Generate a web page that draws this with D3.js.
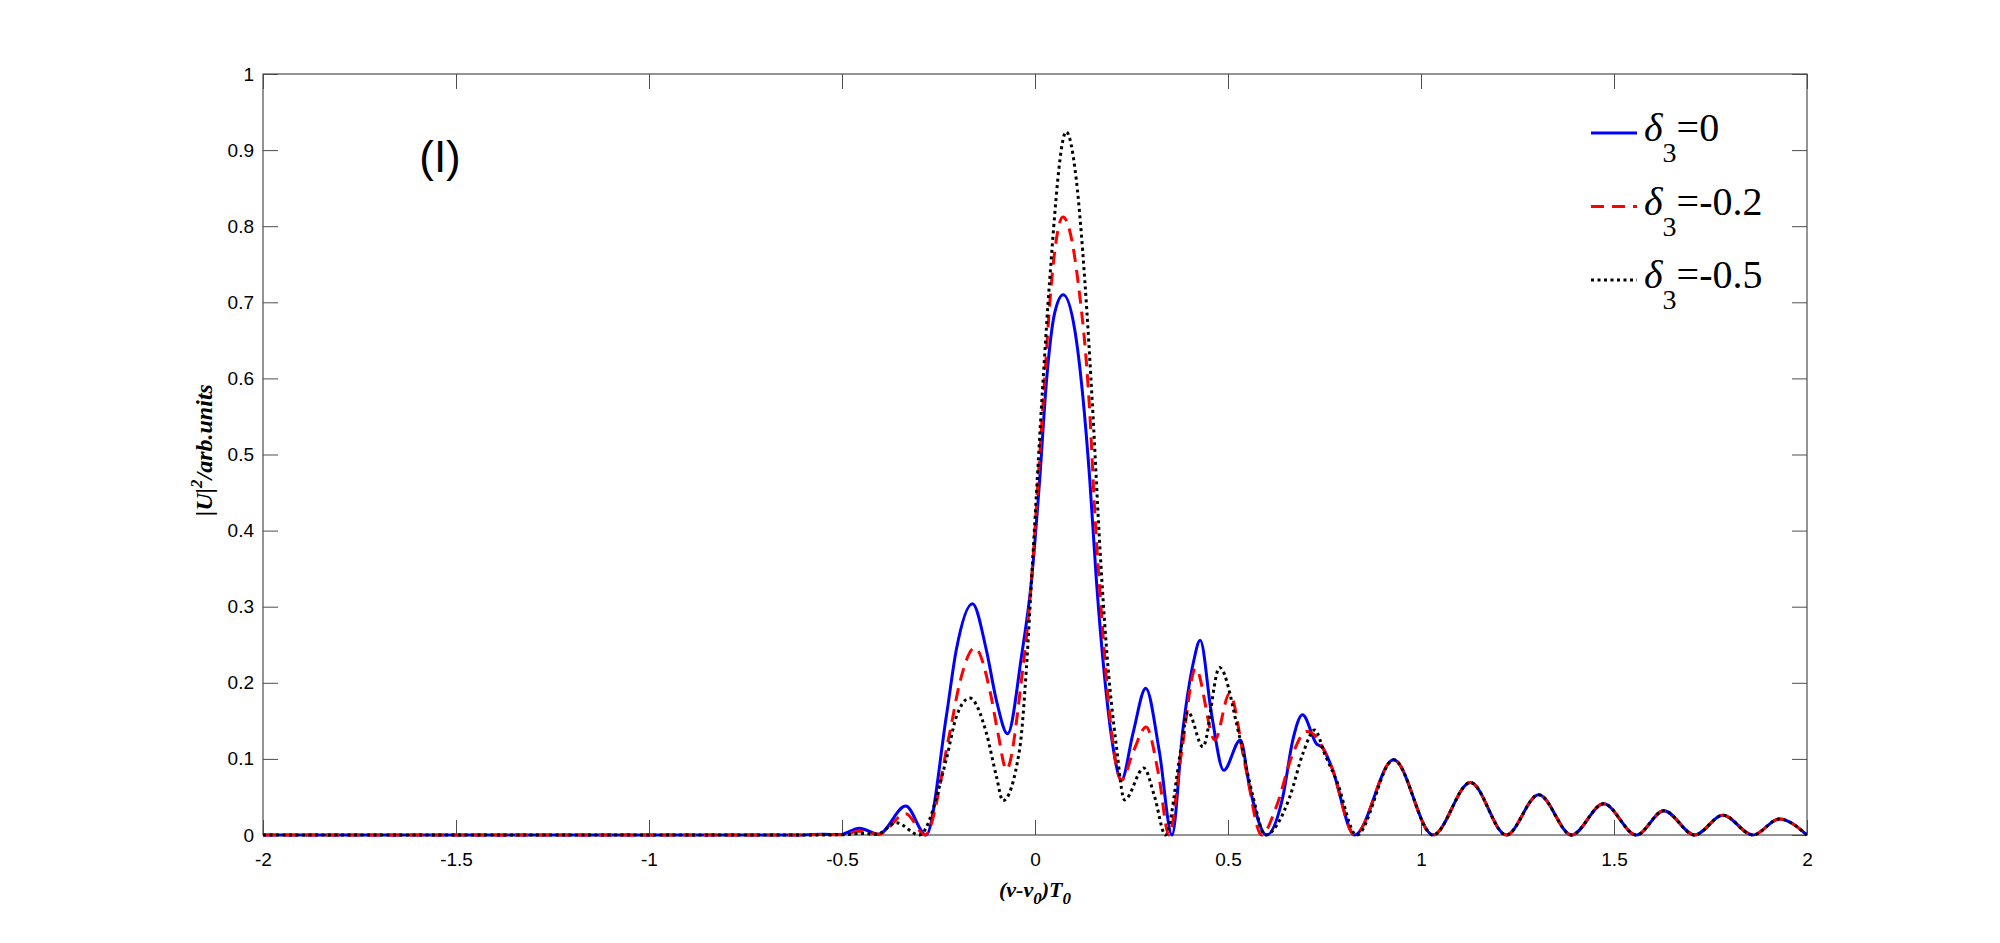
<!DOCTYPE html>
<html>
<head>
<meta charset="utf-8">
<script src="https://d3js.org/d3.v7.min.js"></script>
<style>
  body { margin: 0; background: #fff; }
  .tick text { font-family: "Liberation Sans", Arial, sans-serif; font-size: 19px; fill: #000; }
  .tick line { stroke: #4d4d4d; }
</style>
</head>
<body>
<svg id="myGraph" width="2000" height="943"></svg>
<script>
// 주파수 / 세기 데이터
var xTicks = [-2, -1.5, -1, -0.5, 0, 0.5, 1, 1.5, 2];
var yTicks = [0, 0.1, 0.2, 0.3, 0.4, 0.5, 0.6, 0.7, 0.8, 0.9, 1];
var seriesNames = ["=0", "=-0.2", "=-0.5"];

// delta3 = 0
var freq0 = [-2, -0.6, -0.55, -0.505, -0.455, -0.405, -0.335, -0.282, -0.23, -0.204, -0.162, -0.126, -0.1, -0.071,
  -0.035, -0.009, 0.012, 0.03, 0.051, 0.073, 0.103, 0.124, 0.142, 0.159, 0.181, 0.202, 0.224, 0.254, 0.287, 0.322,
  0.355, 0.383, 0.41, 0.428, 0.457, 0.489, 0.532, 0.556, 0.6, 0.642, 0.668, 0.693, 0.729, 0.746, 0.768, 0.828];
var int0 = [0, 0, 0.001, 0.0005, 0.009, 0.001, 0.038, 0, 0.155, 0.243, 0.304, 0.243, 0.177, 0.133,
  0.235, 0.335, 0.466, 0.598, 0.686, 0.710, 0.664, 0.576, 0.466, 0.335, 0.204, 0.116, 0.072, 0.134, 0.193, 0.11,
  0, 0.138, 0.226, 0.256, 0.16, 0.085, 0.125, 0.063, 0, 0.05, 0.125, 0.158, 0.12, 0.114, 0.09, 0];

// delta3 = -0.2
var freq02 = [-2, -0.6, -0.55, -0.505, -0.455, -0.405, -0.335, -0.285, -0.221, -0.195, -0.156, -0.117, -0.096, -0.074,
  -0.035, -0.009, 0.008, 0.025, 0.04, 0.0725, 0.111, 0.142, 0.155, 0.172, 0.193, 0.224, 0.255, 0.288, 0.32,
  0.347, 0.38, 0.416, 0.466, 0.504, 0.545, 0.587, 0.625, 0.668, 0.703, 0.729, 0.746, 0.768, 0.828];
var int02 = [0, 0, 0.0006, 0.0003, 0.005, 0.001, 0.028, 0, 0.134, 0.2, 0.246, 0.19, 0.134, 0.086,
  0.204, 0.335, 0.466, 0.598, 0.71, 0.812, 0.729, 0.554, 0.423, 0.292, 0.160, 0.072, 0.11, 0.142, 0.08,
  0, 0.11, 0.219, 0.125, 0.186, 0.09, 0, 0.037, 0.107, 0.136, 0.129, 0.114, 0.09, 0];

// delta3 = -0.5
var freq05 = [-2, -0.6, -0.5, -0.45, -0.41, -0.359, -0.30, -0.23, -0.204, -0.169, -0.126, -0.1, -0.083, -0.04,
  -0.022, -0.009, 0.021, 0.038, 0.0808, 0.107, 0.129, 0.150, 0.168, 0.185, 0.211, 0.232, 0.282, 0.31, 0.338,
  0.379, 0.396, 0.435, 0.478, 0.530, 0.565, 0.596, 0.66, 0.694, 0.725, 0.75, 0.781, 0.833];
var int05 = [0, 0, 0.0003, 0.002, 0.001, 0.016, 0, 0.099, 0.155, 0.180, 0.134, 0.077, 0.045, 0.112,
  0.221, 0.335, 0.598, 0.729, 0.924, 0.861, 0.729, 0.554, 0.379, 0.247, 0.116, 0.046, 0.088, 0.05, 0,
  0.116, 0.162, 0.116, 0.220, 0.129, 0.05, 0, 0.05, 0.107, 0.138, 0.107, 0.072, 0];

// 세 곡선이 겹치는 꼬리 부분
var tailFreq = [0.929, 1.031, 1.128, 1.221, 1.305, 1.39, 1.473, 1.558, 1.629, 1.709, 1.782, 1.86, 1.928, 2.0];
var tailInt = [0.099, 0, 0.069, 0, 0.053, 0, 0.041, 0, 0.032, 0, 0.026, 0, 0.021, 0];

window.addEventListener("load", function(){

	var left = 263, right = 1807, top = 74, bottom = 835;
	var svg = d3.select("#myGraph");

	var x = d3.scaleLinear().domain([-2, 2]).range([left, right]);
	var y = d3.scaleLinear().domain([0, 1]).range([bottom, top]);
	var plain = function(d){ return String(d); };	// 하이픈 마이너스 그대로

	// 축 (눈금은 안쪽으로)
	svg.append("g").attr("transform", "translate(0," + bottom + ")")
		.call(d3.axisBottom(x).tickValues(xTicks).tickFormat(plain).tickSizeInner(-15).tickSizeOuter(0).tickPadding(18));
	svg.append("g").attr("transform", "translate(" + left + ",0)")
		.call(d3.axisLeft(y).tickValues(yTicks).tickFormat(plain).tickSizeInner(-15).tickSizeOuter(0).tickPadding(9));
	svg.append("g").attr("transform", "translate(0," + top + ")")
		.call(d3.axisTop(x).tickValues(xTicks).tickFormat("").tickSizeInner(-15).tickSizeOuter(0));
	svg.append("g").attr("transform", "translate(" + right + ",0)")
		.call(d3.axisRight(y).tickValues(yTicks).tickFormat("").tickSizeInner(-15).tickSizeOuter(0));
	svg.selectAll(".domain").remove();

	svg.append("rect")
		.attr("x", left).attr("y", top)
		.attr("width", right - left).attr("height", bottom - top)
		.attr("fill", "none").attr("stroke", "#4d4d4d").attr("stroke-width", 1.2);

	svg.append("clipPath").attr("id", "clip")
		.append("rect").attr("x", left).attr("y", top - 2).attr("width", right - left).attr("height", bottom - top + 4);

	var line = d3.line()
		.x(function(d){ return x(d[0]); })
		.y(function(d){ return y(d[1]); })
		.curve(d3.curveMonotoneX);

	var series = [
		{ data: d3.zip(freq0.concat(tailFreq), int0.concat(tailInt)), color: "#0000ff", dash: null },
		{ data: d3.zip(freq02.concat(tailFreq), int02.concat(tailInt)), color: "#ff0000", dash: "13,8" },
		{ data: d3.zip(freq05.concat(tailFreq), int05.concat(tailInt)), color: "#000000", dash: "3,3.5" }
	];

	svg.append("g").attr("clip-path", "url(#clip)")
		.selectAll("path")
		.data(series)
		.enter()
		.append("path")
		.attr("d", function(d){ return line(d.data); })
		.attr("fill", "none")
		.attr("stroke", function(d){ return d.color; })
		.attr("stroke-width", 3)
		.attr("stroke-dasharray", function(d){ return d.dash; });

	// 범례
	var legend = svg.append("g").selectAll("g")
		.data(series)
		.enter()
		.append("g")
		.attr("transform", function(d, i){ return "translate(0," + (i * 73.5) + ")"; });

	legend.append("line")
		.attr("x1", 1591).attr("x2", 1637)
		.attr("y1", 133).attr("y2", 133)
		.attr("stroke", function(d){ return d.color; })
		.attr("stroke-width", 3)
		.attr("stroke-dasharray", function(d){ return d.dash; });

	var lt = legend.append("text")
		.attr("x", 1644).attr("y", 141)
		.attr("font-family", "'Liberation Serif', serif")
		.attr("font-size", 40)
		.attr("fill", "#000");
	lt.append("tspan").attr("font-style", "italic").text("δ");
	lt.append("tspan").attr("font-size", 28).attr("dy", 21).text("3");
	lt.append("tspan").attr("dy", -21).text(function(d, i){ return seriesNames[i]; });

	// 패널 표시
	svg.append("text")
		.attr("x", 440).attr("y", 172)
		.attr("text-anchor", "middle")
		.attr("font-family", "'Liberation Sans', Arial, sans-serif")
		.attr("font-size", 44)
		.text("(I)");

	// 축 제목
	var xl = svg.append("text")
		.attr("x", (left + right) / 2).attr("y", 897)
		.attr("text-anchor", "middle")
		.attr("font-family", "'Liberation Serif', serif")
		.attr("font-size", 22).attr("font-weight", "bold").attr("font-style", "italic");
	xl.append("tspan").text("(v-v");
	xl.append("tspan").attr("font-size", 17).attr("dy", 7).text("0");
	xl.append("tspan").attr("dy", -7).text(")T");
	xl.append("tspan").attr("font-size", 17).attr("dy", 7).text("0");

	var yl = svg.append("text")
		.attr("transform", "translate(212,450) rotate(-90)")
		.attr("text-anchor", "middle")
		.attr("font-family", "'Liberation Serif', serif")
		.attr("font-size", 24).attr("font-weight", "bold").attr("font-style", "italic");
	yl.append("tspan").text("|U|");
	yl.append("tspan").attr("font-size", 17).attr("dy", -10).text("2");
	yl.append("tspan").attr("dy", 10).text("/arb.units");

});
</script>
</body>
</html>
